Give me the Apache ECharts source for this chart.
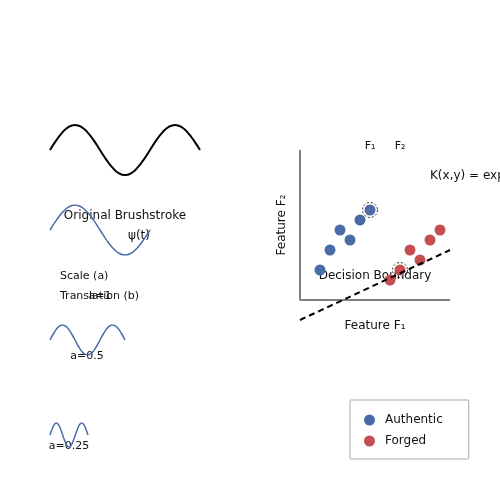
<!DOCTYPE html>
<html><head><meta charset="utf-8">
<script src="https://cdn.jsdelivr.net/npm/echarts@6/dist/echarts.min.js"></script>
<style>html,body{margin:0;padding:0;background:#fff}#c{width:500px;height:500px}</style>
</head><body><div id="c"></div>
<script>
// unit sine samples, 16 per period, 1.5 periods
const sineSamples = [0,0.383,0.707,0.924,1,0.924,0.707,0.383,0,-0.383,-0.707,-0.924,-1,-0.924,-0.707,-0.383,0,0.383,0.707,0.924,1,0.924,0.707,0.383,0];
const onePeriod = sineSamples.slice(0,17);
const authentic = [[2,3],[3,5],[4,7],[5,6],[6,8],[7,9]];
const forged = [[9,2],[10,3],[11,5],[12,4],[13,6],[14,7]];
const boundary = [[0,-2],[15,5]];
const highlighted = [[7,9],[10,3]];
const blue = '#4a6ca6', red = '#c44e52';
const F = 'DejaVu Sans';

const grids = [
  {left:50, top:125, width:150, height:50},
  {left:50, top:205, width:100, height:50},
  {left:50, top:325, width:75, height:30},
  {left:50, top:423, width:38, height:24},
  {left:300, top:150, width:150, height:180}
];
const xAxes = [], yAxes = [];
[sineSamples, onePeriod, sineSamples, sineSamples].forEach((d,i)=>{
  xAxes.push({type:'value', gridIndex:i, min:0, max:d.length-1, show:false});
  yAxes.push({type:'value', gridIndex:i, min:-1, max:1, show:false});
});
xAxes.push({type:'value', gridIndex:4, min:0, max:15, show:false});
yAxes.push({type:'value', gridIndex:4, min:-3, max:15, show:false});

const wave = (d,i,color,w)=>({type:'line', xAxisIndex:i, yAxisIndex:i, data:d.map((v,k)=>[k,v]),
  smooth:true, showSymbol:false, lineStyle:{color, width:w}, silent:true});

const series = [
  wave(sineSamples,0,'#000',2),
  wave(onePeriod,1,blue,1.5),
  wave(sineSamples,2,blue,1.5),
  wave(sineSamples,3,blue,1.5),
  {type:'line', xAxisIndex:4, yAxisIndex:4, data:[[0,15],[0,0],[15,0]], showSymbol:false, lineStyle:{color:'#808080', width:2}, silent:true},
  {type:'line', xAxisIndex:4, yAxisIndex:4, data:boundary, showSymbol:false, lineStyle:{color:'#000', width:2, type:[6,4]}, silent:true},
  {name:'Authentic', type:'scatter', xAxisIndex:4, yAxisIndex:4, data:authentic, symbolSize:11, itemStyle:{color:blue, opacity:1}},
  {name:'Forged', type:'scatter', xAxisIndex:4, yAxisIndex:4, data:forged, symbolSize:11, itemStyle:{color:red, opacity:1}},
  {type:'scatter', xAxisIndex:4, yAxisIndex:4, data:highlighted, symbolSize:15, itemStyle:{color:'none', borderColor:'#222', borderWidth:1, borderType:[2,2], opacity:1}, silent:true}
];

const txt = (text,x,y,align,size)=>({type:'text', x, y, style:{text, x:0, y:0, fill:'#111', font:(size||12)+'px '+F, textAlign:align||'center', textVerticalAlign:'middle'}});

const chart = echarts.init(document.getElementById('c'));
chart.setOption({
  animation:false,
  grid:grids, xAxis:xAxes, yAxis:yAxes, series,
  legend:{data:['Authentic','Forged'], orient:'vertical', left:350, top:400, padding:[14,26,12,14], itemGap:9,
    borderColor:'#aaa', borderWidth:1, borderRadius:1, icon:'circle', itemWidth:11, itemHeight:11,
    textStyle:{fontFamily:F, fontSize:12, color:'#111', padding:[0,0,0,5]}},
  graphic:[
    txt('Original Brushstroke',125,216),
    txt('ψ(t)',139,236),
    txt('Scale (a)',60,276,'left',11),
    txt('Translation (b)',60,296,'left',11),
    txt('a=1',100,296,'center',11),
    txt('a=0.5',87,356,'center',11),
    txt('a=0.25',69,446,'center',11),
    txt('F₁',370,146,'center',11),
    txt('F₂',400,146,'center',11),
    txt('K(x,y) = exp(−γ‖x−y‖²)',430,176,'left',12),
    txt('Decision Boundary',375,276,'center',12),
    txt('Feature F₁',375,326,'center',12),
    {type:'text', x:282, y:225, rotation:Math.PI/2, style:{text:'Feature F₂', fill:'#111', font:'12px '+F, textAlign:'center', textVerticalAlign:'middle'}}
  ]
});
</script></body></html>
